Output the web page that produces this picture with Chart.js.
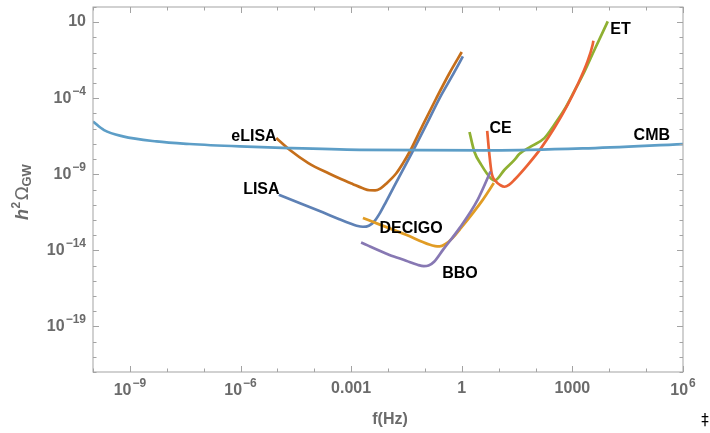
<!DOCTYPE html>
<html>
<head>
<meta charset="utf-8">
<script src="https://cdn.jsdelivr.net/npm/chart.js@4"></script>
<style>
  body { margin: 0; background: #fff; }
  #wrap { width: 710px; height: 433px; }
</style>
</head>
<body>
<div id="wrap"><canvas id="chart" width="710" height="433"></canvas></div>
<script>
// Data (log10 of frequency in Hz, log10 of h^2 Omega_GW)
const cmbF = [-10, -9.7, -9.19, -8.28, -7.38, -6.02, -4.67, -2.77, 0.84, 3.28, 6];
const cmbO = [-5.53, -6.1, -6.51, -6.84, -7.01, -7.17, -7.28, -7.39, -7.43, -7.3, -7.01];

const elisaF = [-5.03, -4.67, -4.16, -3.6, -3.26, -2.95, -2.7, -2.5, -2.35, -2.2, -2.05, -1.78, -1.6, -1.42, -1.06, -0.69, -0.33, 0.0];
const elisaO = [-6.62, -7.39, -8.26, -8.95, -9.33, -9.65, -9.9, -10.05, -10.06, -9.92, -9.62, -8.95, -8.3, -7.55, -5.78, -4.0, -2.34, -0.96];

const lisaF = [-4.96, -4.3, -3.77, -3.32, -3.04, -2.85, -2.68, -2.52, -2.38, -2.22, -2.05, -1.69, -1.33, -0.96, -0.6, -0.24, 0.03];
const lisaO = [-10.35, -10.98, -11.5, -11.95, -12.22, -12.38, -12.45, -12.38, -12.12, -11.55, -10.79, -9.14, -7.5, -5.74, -3.99, -2.45, -1.25];

const decigoF = [-2.68, -1.51, -0.88, -0.72, -0.6, -0.45, -0.25, -0.06, 0.57, 0.87];
const decigoO = [-11.88, -12.98, -13.62, -13.72, -13.74, -13.6, -13.2, -12.65, -10.68, -9.58];

const bboF = [-2.73, -1.96, -1.51, -1.2, -1.03, -0.9, -0.75, -0.51, -0.06, 0.43, 0.78];
const bboO = [-13.49, -14.3, -14.68, -14.95, -15.04, -15.0, -14.75, -13.97, -12.54, -10.68, -8.82];

const etF = [0.21, 0.34, 0.53, 0.8, 0.89, 1.16, 1.43, 1.56, 1.88, 2.24, 2.51, 2.78, 3.05, 3.33, 3.6, 3.96];
const etO = [-6.22, -7.5, -8.38, -9.3, -9.41, -8.7, -8.05, -7.67, -7.17, -6.62, -5.74, -4.76, -3.55, -2.24, -0.81, 1.05];

const ceF = [0.69, 0.75, 0.81, 0.93, 1.05, 1.16, 1.28, 1.43, 1.79, 2.15, 2.51, 2.87, 3.14, 3.41, 3.55, 3.57];
const ceO = [-6.14, -7.72, -8.92, -9.47, -9.72, -9.82, -9.7, -9.36, -8.38, -7.28, -5.96, -4.43, -3.11, -1.58, -0.48, -0.22];

// Tick labels: [exponent, base text, superscript text]
const xTicks = [[-9, '10', '\u22129'], [-6, '10', '\u22126'], [-3, '0.001', ''], [0, '1', ''], [3, '1000', ''], [6, '10', '6']];
const yTicks = [[1, '10', ''], [-4, '10', '\u22124'], [-9, '10', '\u22129'], [-14, '10', '\u221214'], [-19, '10', '\u221219']];

// Curve labels: [text, log f, log Omega, align]
const curveLabels = [
  ['eLISA', -5.02, -6.53, 'right'],
  ['LISA', -4.94, -10.02, 'right'],
  ['DECIGO', -2.23, -12.54, 'left'],
  ['BBO', -0.53, -15.55, 'left'],
  ['CE', 0.75, -6.0, 'left'],
  ['ET', 4.03, 0.51, 'left'],
  ['CMB', 4.66, -6.47, 'left']
];

const toPoints = (f, o) => f.map((v, i) => ({ x: 10 ** v, y: 10 ** o[i] }));

function series(points, color, order) {
  return {
    data: points,
    borderColor: color,
    borderWidth: 2.7,
    pointRadius: 0,
    showLine: true,
    fill: false,
    cubicInterpolationMode: 'monotone',
    order: order
  };
}

const gray = '#6b6b6b';
const frameColor = '#a3a3a3';

function drawPower(ctx, base, sup, x, y, align) {
  ctx.font = 'bold 16px "Liberation Sans", Arial, sans-serif';
  const wb = ctx.measureText(base).width;
  ctx.font = 'bold 12px "Liberation Sans", Arial, sans-serif';
  const ws = sup ? ctx.measureText(sup).width + 1 : 0;
  const total = wb + ws;
  let start = align === 'center' ? x - total / 2 : x - total;
  ctx.textAlign = 'left';
  ctx.textBaseline = 'middle';
  ctx.font = 'bold 16px "Liberation Sans", Arial, sans-serif';
  ctx.fillText(base, start, sup ? y + 1.5 : y);
  if (sup) {
    ctx.font = 'bold 12px "Liberation Sans", Arial, sans-serif';
    ctx.fillText(sup, start + wb + 1, y - 5.5);
  }
}

const framePlugin = {
  id: 'frame',
  afterDraw(chart) {
    const ctx = chart.ctx;
    const a = chart.chartArea;
    const xs = chart.scales.x;
    const ys = chart.scales.y;
    ctx.save();

    // frame
    ctx.strokeStyle = frameColor;
    ctx.lineWidth = 1;
    ctx.strokeRect(a.left, a.top, a.right - a.left, a.bottom - a.top);

    // ticks (inside the frame, on all four sides)
    const xMajor = xTicks.map(t => t[0]);
    const yMajor = yTicks.map(t => t[0]);
    ctx.beginPath();
    for (let e = -10; e <= 6; e++) {
      const px = Math.round(xs.getPixelForValue(10 ** e)) + 0.5;
      const len = xMajor.includes(e) ? 6 : 3.5;
      ctx.moveTo(px, a.bottom); ctx.lineTo(px, a.bottom - len);
      ctx.moveTo(px, a.top); ctx.lineTo(px, a.top + len);
    }
    for (let e = -22; e <= 2; e++) {
      const py = Math.round(ys.getPixelForValue(10 ** e)) + 0.5;
      const len = yMajor.includes(e) ? 6 : 3.5;
      ctx.moveTo(a.left, py); ctx.lineTo(a.left + len, py);
      ctx.moveTo(a.right, py); ctx.lineTo(a.right - len, py);
    }
    ctx.stroke();

    // tick labels
    ctx.fillStyle = gray;
    xTicks.forEach(([e, base, sup]) => {
      drawPower(ctx, base, sup, xs.getPixelForValue(10 ** e), a.bottom + 17, 'center');
    });
    yTicks.forEach(([e, base, sup]) => {
      drawPower(ctx, base, sup, a.left - 7, ys.getPixelForValue(10 ** e) - 1, 'right');
    });

    // axis titles
    ctx.textAlign = 'center';
    ctx.textBaseline = 'middle';
    ctx.font = 'bold 16px "Liberation Sans", Arial, sans-serif';
    ctx.fillText('f(Hz)', (a.left + a.right) / 2 + 2, 420);

    ctx.save();
    ctx.translate(28, 220);
    ctx.rotate(-Math.PI / 2);
    ctx.textAlign = 'left';
    ctx.textBaseline = 'alphabetic';
    let cx = 0;
    ctx.font = 'italic bold 18px "Liberation Sans", Arial, sans-serif';
    ctx.fillText('h', cx, 0); cx += ctx.measureText('h').width + 0.5;
    ctx.font = 'bold 12px "Liberation Sans", Arial, sans-serif';
    ctx.fillText('2', cx, -8); cx += ctx.measureText('2').width + 1.5;
    ctx.font = '18px "DejaVu Sans", "Liberation Sans", sans-serif';
    ctx.fillText('\u03A9', cx, 0); cx += ctx.measureText('\u03A9').width;
    ctx.font = 'bold 13px "Liberation Sans", Arial, sans-serif';
    ctx.fillText('GW', cx, 3);
    ctx.restore();

    // curve labels
    ctx.fillStyle = '#000';
    ctx.font = 'bold 16px "Liberation Sans", Arial, sans-serif';
    ctx.textBaseline = 'middle';
    curveLabels.forEach(([text, lf, lo, align]) => {
      ctx.textAlign = align;
      ctx.fillText(text, xs.getPixelForValue(10 ** lf), ys.getPixelForValue(10 ** lo));
    });

    ctx.textAlign = 'center';
    ctx.font = '15px "DejaVu Sans", sans-serif';
    ctx.fillText('\u2021', 705, 421);
    ctx.restore();
  }
};

new Chart(document.getElementById('chart'), {
  type: 'scatter',
  data: {
    datasets: [
      series(toPoints(cmbF, cmbO), '#5D9EC7', 0),
      series(toPoints(elisaF, elisaO), '#C56E1A', 1),
      series(toPoints(bboF, bboO), '#8778B3', 2),
      series(toPoints(ceF, ceO), '#EB6235', 3),
      series(toPoints(etF, etO), '#8FB032', 4),
      series(toPoints(decigoF, decigoO), '#E19C24', 5),
      series(toPoints(lisaF, lisaO), '#5E81B5', 6)
    ]
  },
  options: {
    responsive: false,
    animation: false,
    layout: { padding: { left: 93, right: 27, top: 7, bottom: 61 } },
    plugins: { legend: { display: false }, tooltip: { enabled: false } },
    scales: {
      x: { type: 'logarithmic', min: 1e-10, max: 1e6, display: false },
      y: { type: 'logarithmic', min: 1e-22, max: 1e2, display: false }
    }
  },
  plugins: [framePlugin]
});
</script>
</body>
</html>
